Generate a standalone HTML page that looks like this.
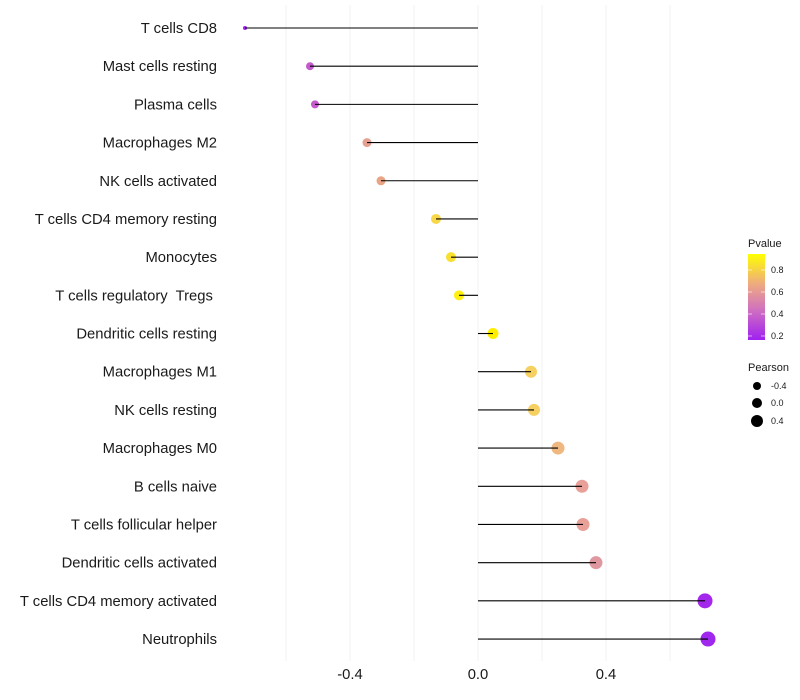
<!DOCTYPE html>
<html><head><style>body{margin:0;background:#fff}svg{display:block}text{font-family:"Liberation Sans",sans-serif}</style></head>
<body>
<svg width="800" height="700" xmlns="http://www.w3.org/2000/svg">
<g stroke="#f2f2f2" stroke-width="1">
<line x1="286" y1="5" x2="286" y2="661"/><line x1="350" y1="5" x2="350" y2="661"/><line x1="414" y1="5" x2="414" y2="661"/><line x1="478" y1="5" x2="478" y2="661"/><line x1="542" y1="5" x2="542" y2="661"/><line x1="606" y1="5" x2="606" y2="661"/><line x1="670" y1="5" x2="670" y2="661"/>
</g>
<g id="d"></g>
<g font-size="14.8" fill="#1a1a1a" text-anchor="end" id="lab"></g>
<g font-size="14.8" fill="#1a1a1a" text-anchor="middle">
<text x="350" y="679">-0.4</text><text x="478" y="679">0.0</text><text x="606" y="679">0.4</text>
</g>
<defs><linearGradient id="g" x1="0" y1="1" x2="0" y2="0">
<stop offset="0" stop-color="#a020f0"/><stop offset="0.35" stop-color="#d070c0"/><stop offset="0.65" stop-color="#eeaa80"/><stop offset="1" stop-color="#ffff00"/></linearGradient></defs>
<text x="748" y="247" font-size="11" fill="#1a1a1a">Pvalue</text>
<rect x="748" y="254" width="17" height="86" fill="url(#g)"/>
<g stroke="#fff" stroke-width="1" opacity="0.6"><line x1="748" y1="270" x2="752" y2="270"/><line x1="761" y1="270" x2="765" y2="270"/><line x1="748" y1="292" x2="752" y2="292"/><line x1="761" y1="292" x2="765" y2="292"/><line x1="748" y1="314" x2="752" y2="314"/><line x1="761" y1="314" x2="765" y2="314"/><line x1="748" y1="336" x2="752" y2="336"/><line x1="761" y1="336" x2="765" y2="336"/></g>
<g font-size="9" fill="#1a1a1a"><text x="771" y="273">0.8</text><text x="771" y="295">0.6</text><text x="771" y="317">0.4</text><text x="771" y="339">0.2</text></g>
<text x="748" y="371" font-size="11" fill="#1a1a1a">Pearson</text>
<circle cx="757" cy="386" r="4" fill="#000"/><circle cx="757" cy="403" r="5" fill="#000"/><circle cx="757" cy="421" r="6" fill="#000"/>
<g font-size="9" fill="#1a1a1a"><text x="771" y="389">-0.4</text><text x="771" y="406">0.0</text><text x="771" y="424">0.4</text></g>
</svg>
<script>
var D=[["T cells CD8",245,2,"#a020f0"],["Mast cells resting",310,4,"#c25acd"],["Plasma cells",315,4,"#c55acb"],["Macrophages M2",367,4.5,"#e4a090"],["NK cells activated",381,4.5,"#e8a484"],["T cells CD4 memory resting",436,5,"#f8d848"],["Monocytes",451,5,"#f9e030"],["T cells regulatory  Tregs ",459,5,"#fff010"],["Dendritic cells resting",493,5.5,"#ffee00"],["Macrophages M1",531,6,"#f6d060"],["NK cells resting",534,6,"#f6d060"],["Macrophages M0",558,6.5,"#efb880"],["B cells naive",582,6.5,"#e8a098"],["T cells follicular helper",583,6.5,"#e8a098"],["Dendritic cells activated",596,6.5,"#e098a0"],["T cells CD4 memory activated",705,7.5,"#a428ec"],["Neutrophils",708,7.5,"#a028ee"]];
var ns="http://www.w3.org/2000/svg",g=document.getElementById("d"),L=document.getElementById("lab");
D.forEach(function(r,i){var y=28+i*38.19;
var c=document.createElementNS(ns,"circle");c.setAttribute("cx",r[1]);c.setAttribute("cy",y);c.setAttribute("r",r[2]);c.setAttribute("fill",r[3]);g.appendChild(c);
var l=document.createElementNS(ns,"line");l.setAttribute("x1",478);l.setAttribute("x2",r[1]);l.setAttribute("y1",y);l.setAttribute("y2",y);l.setAttribute("stroke","#000");l.setAttribute("stroke-width","1.1");g.appendChild(l);
var t=document.createElementNS(ns,"text");t.setAttribute("x",217);t.setAttribute("y",y+5);t.setAttribute("xml:space","preserve");t.style.whiteSpace="pre";t.textContent=r[0];L.appendChild(t);});
</script>
</body></html>
